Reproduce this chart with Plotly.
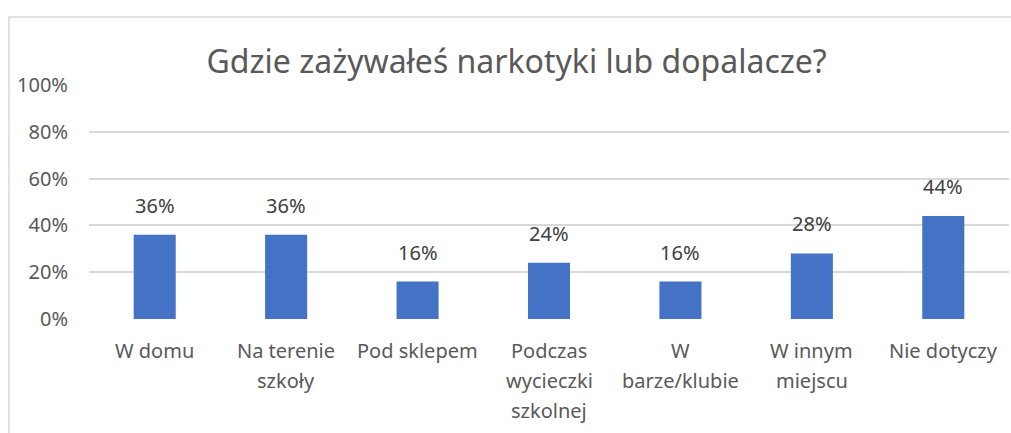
import plotly.graph_objects as go

categories = ["W domu", "Na terenie<br>szkoły", "Pod sklepem", "Podczas<br>wycieczki<br>szkolnej",
              "W<br>barze/klubie", "W innym<br>miejscu", "Nie dotyczy"]
values = [0.36, 0.36, 0.16, 0.24, 0.16, 0.28, 0.44]
y_ticks = [0, 0.2, 0.4, 0.6, 0.8, 1.0]
y_tick_labels = ["0%", "20%", "40%", "60%", "80%", "100%"]

FONT = "Noto Sans"
GREY = "#595959"

fig = go.Figure()
fig.add_trace(go.Bar(
    x=list(range(len(categories))), y=values,
    marker=dict(color="#4472C4", line=dict(width=0)),
    width=0.32,
    hoverinfo="skip",
))

for i, v in enumerate(values):
    fig.add_annotation(x=i, y=v, text=f"{round(v*100)}%", showarrow=False,
                       yanchor="bottom", yshift=14,
                       font=dict(family=FONT, size=20, color="#404040"))

# category labels, one annotation per line (Excel-like line spacing)
for i, cat in enumerate(categories):
    for k, line in enumerate(cat.split("<br>")):
        fig.add_annotation(x=i, y=0, text=line, showarrow=False,
                           yanchor="top", yshift=-16 - 30 * k,
                           font=dict(family=FONT, size=20, color=GREY))

L, R, T, B = 89, 1009, 85, 319
W, H = 1011, 433

def px_x(p):
    return (p - L) / (R - L)

def px_y(p):
    return (B - p) / (B - T)

fig.add_shape(type="rect", xref="paper", yref="paper",
              x0=px_x(9), x1=px_x(1060), y0=px_y(480), y1=px_y(17),
              line=dict(color="#D9D9D9", width=1.5), fillcolor="rgba(0,0,0,0)", layer="below")

fig.update_layout(
    width=W, height=H,
    margin=dict(l=L, r=W - R, t=T, b=H - B),
    paper_bgcolor="white", plot_bgcolor="white",
    showlegend=False,
    title=dict(text="Gdzie zażywałeś narkotyki lub dopalacze?", x=0.511, xanchor="center",
               y=1 - 62 / H, yanchor="middle",
               font=dict(family=FONT, size=32, color=GREY)),
    font=dict(family=FONT, color=GREY),
)
fig.update_xaxes(
    range=[-0.5, len(categories) - 0.5],
    showgrid=False, zeroline=False, showline=False, ticks="",
    showticklabels=False,
)
fig.update_yaxes(
    range=[0, 1], tickmode="array", tickvals=y_ticks, ticktext=y_tick_labels,
    showgrid=True, gridcolor="#D9D9D9", gridwidth=1.5,
    zeroline=False, showline=False, ticks="",
    tickfont=dict(family=FONT, size=20, color=GREY),
    ticklabelstandoff=20,
)

fig.write_html(
    "out.html",
    config={"displayModeBar": False},
    post_script="document.body.style.margin='0';document.body.style.overflow='hidden';",
)
